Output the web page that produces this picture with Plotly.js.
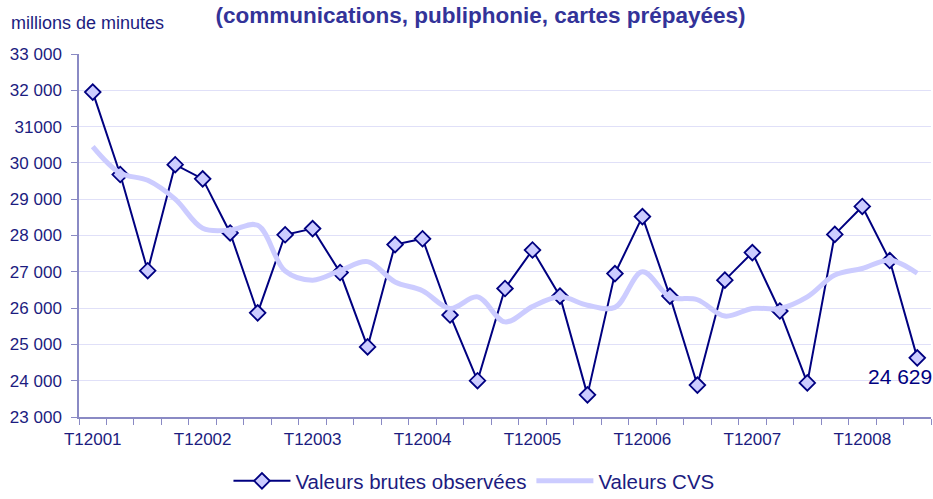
<!DOCTYPE html>
<html>
<head>
<meta charset="utf-8">
<script src="https://cdn.plot.ly/plotly-3.0.1.min.js"></script>
<style>
  html, body { margin: 0; padding: 0; background: #fff; }
  #chart { width: 933px; height: 499px; }
</style>
</head>
<body>
<div id="chart"></div>
<script>
// Trafic trimestriel (millions de minutes), T1 2001 -> T3 2008

const quarters = [
    'T12001', 'T22001', 'T32001', 'T42001',
    'T12002', 'T22002', 'T32002', 'T42002',
    'T12003', 'T22003', 'T32003', 'T42003',
    'T12004', 'T22004', 'T32004', 'T42004',
    'T12005', 'T22005', 'T32005', 'T42005',
    'T12006', 'T22006', 'T32006', 'T42006',
    'T12007', 'T22007', 'T32007', 'T42007',
    'T12008', 'T22008', 'T32008'
];

const brutes = [
    31950, 29680, 27030, 29950,
    29560, 28070, 25870, 28020,
    28190, 26980, 24930, 27750,
    27910, 25810, 24000, 26540,
    27600, 26330, 23610, 26950,
    28520, 26330, 23880, 26770,
    27530, 25920, 23940, 28030,
    28800, 27310, 24629
];

const cvs = [
    30450, 29720, 29520, 29000,
    28200, 28150, 28280, 27020,
    26770, 27030, 27280, 26720,
    26480, 25990, 26310, 25620,
    26040, 26310, 26080, 26020,
    27000, 26310, 26230, 25780,
    25990, 25990, 26310, 26910,
    27090, 27320, 26960
];

const yTickVals = [23000, 24000, 25000, 26000, 27000, 28000, 29000, 30000, 31000, 32000, 33000];
const yTickText = ['23 000', '24 000', '25 000', '26 000', '27 000', '28 000', '29 000', '30 000', '31000', '32 000', '33 000'];

// only the first quarter of each year gets a label
const xTickText = quarters.map(q => q.startsWith('T1') ? q : '');

function fmt(v) {
    return String(v).replace(/\B(?=(\d{3})+(?!\d))/g, ' ');
}

const navy = '#000080';
const textColor = '#1c1c80';
const axisColor = '#8a8ac4';
const last = quarters.length - 1;

Plotly.newPlot('chart', [{
    x: quarters,
    y: brutes,
    type: 'scatter',
    mode: 'lines+markers',
    name: 'Valeurs brutes observées',
    line:   { color: navy, width: 2 },
    marker: { symbol: 'diamond', size: 12, color: '#ccccff', line: { color: navy, width: 1.8 } }
}, {
    x: quarters,
    y: cvs,
    type: 'scatter',
    mode: 'lines',
    name: 'Valeurs CVS',
    line: { color: '#ccccff', width: 5, shape: 'spline', smoothing: 1 }
}], {
    width: 933,
    height: 499,
    margin: { l: 79, r: 2, t: 54, b: 82 },
    paper_bgcolor: '#ffffff',
    plot_bgcolor:  '#ffffff',
    font: { family: 'Liberation Sans, Arial, sans-serif', color: textColor },
    title: {
        text: '(communications, publiphonie, cartes prépayées)',
        font: { size: 22.5, color: '#333399', weight: 'bold' },
        x: 0.515, xanchor: 'center',
        y: 0.97, yanchor: 'middle'
    },
    xaxis: {
        type: 'category',
        range: [-0.5, last + 0.5],
        tickvals: quarters,
        ticktext: xTickText,
        tickangle: 0,
        tickson: 'boundaries',
        ticks: 'outside',
        ticklen: 6,
        tickcolor: axisColor,
        showline: true,
        linecolor: axisColor,
        linewidth: 1.5,
        showgrid: false,
        ticklabelstandoff: 6,
        tickfont: { size: 17, color: textColor }
    },
    yaxis: {
        range: [23000, 33000],
        tickvals: yTickVals,
        ticktext: yTickText,
        ticks: 'outside',
        ticklen: 6,
        tickcolor: axisColor,
        showline: true,
        linecolor: axisColor,
        linewidth: 1.5,
        showgrid: true,
        gridcolor: '#e0e0f8',
        gridwidth: 1.3,
        zeroline: false,
        ticklabelstandoff: 6,
        tickfont: { size: 17, color: textColor }
    },
    showlegend: true,
    legend: {
        orientation: 'h',
        xref: 'container', yref: 'container',
        x: 0.508, xanchor: 'center',
        y: 0.036, yanchor: 'middle',
        itemwidth: 57,
        font: { size: 20.5, color: textColor },
        bgcolor: 'rgba(0,0,0,0)'
    },
    annotations: [{
        xref: 'paper', yref: 'paper',
        x: -0.082, y: 1.085,
        xanchor: 'left', yanchor: 'middle',
        text: 'millions de minutes',
        showarrow: false,
        font: { size: 18, color: textColor }
    }, {
        x: quarters[last], y: brutes[last],
        xref: 'x', yref: 'y',
        text: fmt(brutes[last]),
        showarrow: false,
        xanchor: 'center',
        xshift: -17, yshift: -19,
        font: { size: 21, color: navy }
    }]
}, { displayModeBar: false });
</script>
</body>
</html>
